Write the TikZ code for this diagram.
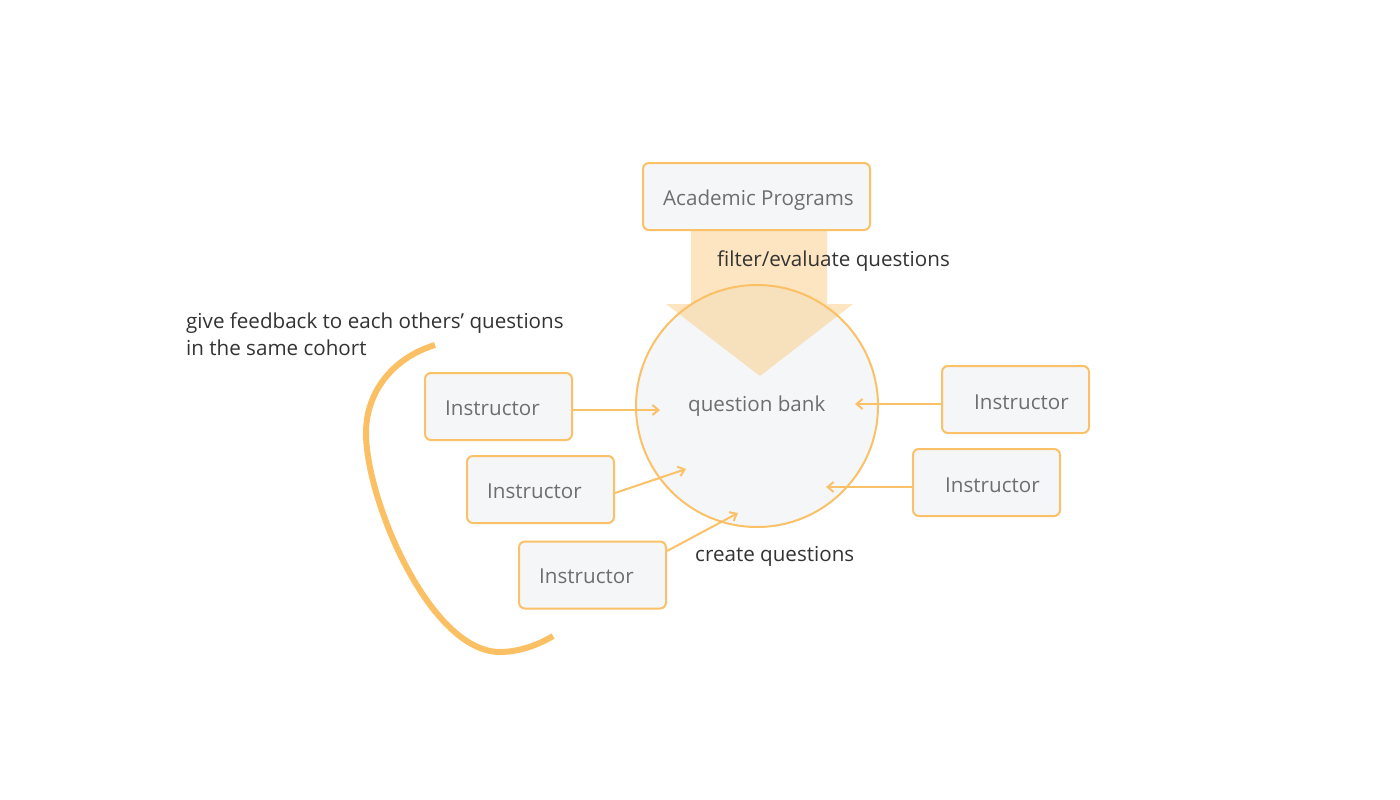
\documentclass[tikz,border=0pt]{standalone}
\usepackage{fontspec}
\setmainfont{Open Sans}
\usetikzlibrary{arrows.meta}
\definecolor{boxline}{HTML}{FBC168}
\definecolor{boxfill}{HTML}{F5F6F8}
\definecolor{boxtext}{HTML}{6E6E6E}
\definecolor{labeltext}{HTML}{333333}
\definecolor{curvecol}{HTML}{FBC064}
\begin{document}
\begin{tikzpicture}[x=1pt,y=-1pt,
  box/.style={draw=boxline,fill=boxfill,line width=2pt,rounded corners=6pt,
    minimum width=147pt,minimum height=67pt,inner sep=0pt},
  boxlbl/.style={text=boxtext,anchor=base west,inner sep=0pt,
    font=\fontsize{20.6}{24}\selectfont},
  lbl/.style={text=labeltext,anchor=base west,inner sep=0pt,
    font=\fontsize{20.6}{27}\selectfont},
  conn/.style={draw=boxline,line width=2pt,
    -{Straight Barb[length=6pt,width=10pt,line width=2pt]}}]
\useasboundingbox (0,0) rectangle (1400,800);
\fill[white] (0,0) rectangle (1400,800);
% question bank circle
\node[circle,draw=boxline,fill=boxfill,line width=2pt,minimum size=242pt,inner sep=0pt] (qb) at (757,406) {};
% big arrow
\fill[curvecol,opacity=0.4] (691,230) -- (827,230) -- (827,304) -- (853,304) -- (760,376) -- (666,304) -- (691,304) -- cycle;
% boxes
\node[box,minimum width=227pt] (ap) at (756.5,196.5) {};
\node[box] (i1) at (498.5,406.5) {};
\node[box] (i2) at (540.5,489.5) {};
\node[box] (i3) at (592.5,575) {};
\node[box] (ra) at (1015.5,399.5) {};
\node[box] (rb) at (986.5,482.5) {};
% texts
\node[boxlbl] (apt) at (663,205) {Academic Programs};
\node[boxlbl] (i1t) at (445,415) {Instructor};
\node[boxlbl] (i2t) at (487,498) {Instructor};
\node[boxlbl] (i3t) at (539,583) {Instructor};
\node[boxlbl] (rat) at (974,409) {Instructor};
\node[boxlbl] (rbt) at (945,492) {Instructor};
\node[boxlbl] (qbt) at (688,411) {question bank};
\node[lbl] (flt) at (717,266) {filter/evaluate questions};
\node[lbl] (crt) at (695,561) {create questions};
\node[lbl,align=left,anchor=north west] (fbt) at (186,313) {give feedback to each others’ questions\\in the same cohort};
% connectors
\coordinate (e1) at (660,410);
\coordinate (e2) at (686,469);
\coordinate (e3) at (738,513);
\coordinate (ea) at (855,404);
\coordinate (eb) at (826,487);
\draw[conn] (i1.east |- e1) -- (e1);
\draw[conn] ([yshift=-3.5pt]i2.east) -- (e2);
\draw[conn] ([yshift=24pt]i3.east) -- (e3);
\draw[conn] (ra.west |- ea) -- (ea);
\draw[conn] (rb.west |- eb) -- (eb);
% feedback curve
\draw[curvecol,line width=6pt] (435,345) .. controls (395,357) and (366,390) .. (366,433)
  .. controls (366,500) and (430,652) .. (500,652)
  .. controls (520,652) and (540,644) .. (553,636);
\end{tikzpicture}
\end{document}
